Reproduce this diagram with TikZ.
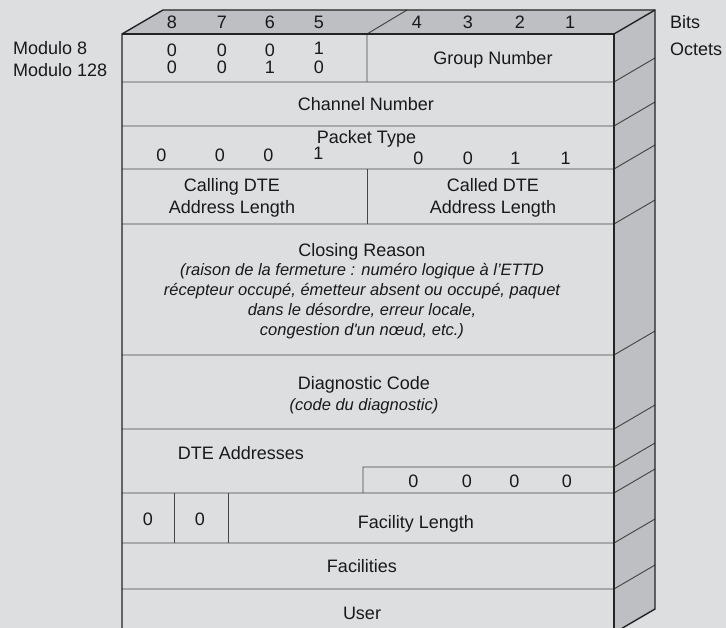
\documentclass[tikz,border=0pt]{standalone}
\usepackage{fontspec}
\setmainfont{Liberation Sans}[Ligatures=TeXOff]
\definecolor{bgc}{RGB}{221,222,224}
\definecolor{facec}{RGB}{190,191,194}
\definecolor{edgec}{RGB}{35,35,35}
\definecolor{linec}{RGB}{70,70,70}
\definecolor{txtc}{RGB}{25,25,25}
\begin{document}
\begin{tikzpicture}[x=1pt,y=-1pt,
  reg/.style={font=\fontsize{18}{20}\selectfont, inner sep=0pt, anchor=base, text=txtc},
  lreg/.style={reg, anchor=base west},
  ita/.style={font=\fontsize{16.5}{20}\selectfont\itshape, inner sep=0pt, anchor=base, text=txtc},
  outer/.style={draw=edgec, line width=1.4pt, line join=miter},
  inner/.style={draw=linec, line width=0.95pt},
]
\useasboundingbox (0,0) rectangle (726,628);
\clip (0,0) rectangle (726,628);
\fill[bgc] (0,0) rectangle (726,628);
% corners
\coordinate (FTL) at (122,34);
\coordinate (FTR) at (614,34);
\coordinate (BTL) at (163,10);
\coordinate (BTR) at (655,10);
\coordinate (FBL) at (122,633);
\coordinate (FBR) at (614,633);
\coordinate (BBR) at (655,609);
% faces
\fill[facec] (FTL) -- (BTL) -- (BTR) -- (FTR) -- cycle;
\fill[facec] (FTR) -- (BTR) -- (BBR) -- (FBR) -- cycle;
% row lines
\foreach \y in {82,126,169,224,355,429,493,543,589}{
  \draw[inner] (122,\y) -- (614,\y) -- ++(41,-24);
}
\draw[inner] (363,493) -- (363,467) -- (614,467) -- ++(41,-24);
% dividers
\draw[inner] (407,10) -- (367,34) -- (367,82);
\draw[inner] (367,169) -- (367,224);
\draw[inner] (174,493) -- (174,543);
\draw[inner] (228,493) -- (228,543);
% outline
\draw[outer] (FBL) -- (FTL) -- (BTL) -- (BTR) -- (BBR) -- (FBR);
\draw[outer] (FTL) -- (FTR) -- (FBR);
\draw[outer] (FTR) -- (BTR);
% side labels
\node[lreg] (mod8) at (13,55) {Modulo 8};
\node[lreg] (mod128) at (13,76.5) {Modulo 128};
\node[lreg] (bits) at (670,28.5) {Bits};
\node[lreg] (octets) at (670,55.5) {Octets};
% bit numbers
\node[reg] (b8) at (172,28.5) {8};
\node[reg] (b7) at (222,28.5) {7};
\node[reg] (b6) at (270,28.5) {6};
\node[reg] (b5) at (319,28.5) {5};
\node[reg] (b4) at (417,28.5) {4};
\node[reg] (b3) at (468,28.5) {3};
\node[reg] (b2) at (520,28.5) {2};
\node[reg] (b1) at (570,28.5) {1};
% row 1
\node[reg] (r1a1) at (172,57) {0};
\node[reg] (r1a2) at (222,57) {0};
\node[reg] (r1a3) at (270,57) {0};
\node[reg] (r1a4) at (319,55) {1};
\node[reg] (r1b1) at (172,74) {0};
\node[reg] (r1b2) at (222,74) {0};
\node[reg] (r1b3) at (270,74) {1};
\node[reg] (r1b4) at (319,74) {0};
\node[reg] (group) at (493,64.5) {Group Number};
% row 2
\node[reg] (chan) at (366,110.5) {Channel Number};
% row 3
\node[reg] (ptype) at (366.5,144) {Packet Type};
\node[reg] (p1) at (161.5,161.5) {0};
\node[reg] (p2) at (220,161.5) {0};
\node[reg] (p3) at (268.5,161.5) {0};
\node[reg] (p4) at (318.5,159.5) {1};
\node[reg] (p5) at (418.5,165) {0};
\node[reg] (p6) at (468,165) {0};
\node[reg] (p7) at (515.5,165) {1};
\node[reg] (p8) at (565.5,165) {1};
% row 4
\node[reg] (calling1) at (232,191.5) {Calling DTE};
\node[reg] (calling2) at (232,214) {Address Length};
\node[reg] (called1) at (493,191.5) {Called DTE};
\node[reg] (called2) at (493,214) {Address Length};
% row 5
\node[reg] (closing) at (362,256.5) {Closing Reason};
\node[ita] (cl1) at (362,275.5) {(raison de la fermeture : numéro logique à l’ETTD};
\node[ita] (cl2) at (362,295.5) {récepteur occupé, émetteur absent ou occupé, paquet};
\node[ita] (cl3) at (362,315.5) {dans le désordre, erreur locale,};
\node[ita] (cl4) at (362,335.5) {congestion d'un nœud, etc.)};
% row 6
\node[reg] (diag) at (364,390) {Diagnostic Code};
\node[ita] (diagfr) at (364,410) {(code du diagnostic)};
% row 7
\node[reg] (dte) at (241,459) {DTE Addresses};
\node[reg] (d1) at (413.5,487.5) {0};
\node[reg] (d2) at (467,487.5) {0};
\node[reg] (d3) at (514.5,487.5) {0};
\node[reg] (d4) at (567,487.5) {0};
% row 8
\node[reg] (f1) at (148,525) {0};
\node[reg] (f2) at (200,525) {0};
\node[reg] (flen) at (416,528) {Facility Length};
% row 9
\node[reg] (fac) at (362,572.5) {Facilities};
% row 10
\node[reg] (user) at (362,619) {User};
\end{tikzpicture}
\end{document}
